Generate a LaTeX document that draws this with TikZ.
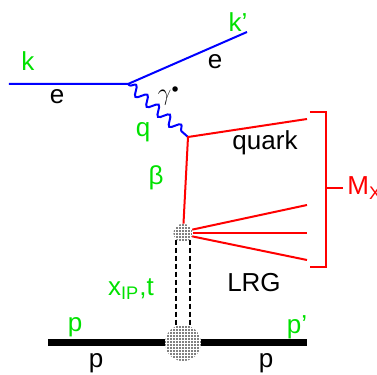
\documentclass[tikz,border=0pt]{standalone}
\usepackage{fontspec}
\setmainfont{Liberation Sans}
\usetikzlibrary{decorations.pathmorphing,patterns,shapes.geometric}
\definecolor{momgreen}{RGB}{0,225,0}
\pgfdeclarepatternformonly{finedots}{\pgfqpoint{-0.6pt}{-0.6pt}}{\pgfqpoint{0.6pt}{0.6pt}}%
  {\pgfqpoint{1.5pt}{1.5pt}}{\pgfpathcircle{\pgfqpoint{0pt}{0pt}}{0.45pt}\pgfusepath{fill}}

\begin{document}
\begin{tikzpicture}[x=0.5pt, y=-0.5pt,
  lbl/.style={font=\fontsize{13}{15}\selectfont, inner sep=0pt},
  mom/.style={lbl, text=momgreen},
  lepton/.style={blue, line width=1pt},
  photon/.style={blue, line width=1pt, decorate,
                 decoration={snake, amplitude=2.4pt, segment length=7.5pt,
                             pre length=1pt, post length=4pt}},
  hadron/.style={red, line width=1pt},
  proton/.style={black, line width=3.5pt},
  blob/.style={ellipse, pattern=finedots, inner sep=0pt},
  pomeron/.style={line width=1.2pt, dash pattern=on 2.5pt off 1.5pt},
]
  \useasboundingbox (0,0) rectangle (377,375);

  % electron vertex
  \coordinate (ein) at (9,84);
  \coordinate (evtx) at (128,84);
  \coordinate (eout) at (247,32);
  \draw[lepton] (ein) -- (evtx) -- (eout);

  % photon and quark
  \coordinate (qvtx) at (188,137);
  \coordinate (qend) at (307,119);
  \draw[photon] (evtx) -- (qvtx);
  \node[blob, minimum width=9.5pt, minimum height=9pt] (pom) at (183,233) {};
  \draw[hadron] (qend) -- (qvtx) -- (pom);

  % remnant fan
  \coordinate (fan1) at (307,205);
  \coordinate (fan2) at (307,233);
  \coordinate (fan3) at (307,260);
  \draw[hadron] (pom.20) -- (fan1);
  \draw[hadron] (pom.east) -- (fan2);
  \draw[hadron] (pom.-20) -- (fan3);

  % M_X bracket
  \coordinate (brtop) at (310,112);
  \coordinate (brbot) at (310,267);
  \coordinate (brmid) at (326,188);
  \node[lbl, text=red, anchor=west, inner sep=2pt] (mx) at (343,188) {M\textsubscript{X}};
  \draw[hadron] (brtop) -- ++(16,0) -- ++(0,155) -- (brbot);
  \draw[hadron] (brmid) -- (mx.west);

  % proton line
  \node[blob, circle, minimum size=18pt] (pblob) at (183,343) {};
  \coordinate (pin) at (48,343);
  \coordinate (pout) at (307,343);
  \draw[proton] (pin) -- (pblob);
  \draw[proton] (pblob) -- (pout);
  \draw[pomeron] (pom.south west) -- (pom.south west |- pblob.north);
  \draw[pomeron] (pom.south east) -- (pom.south east |- pblob.north);

  % labels
  \node[mom] (lk) at (28,61) {k};
  \node[lbl] (le1) at (57,97) {e};
  \node[mom] (lk2) at (238,22) {k’};
  \node[lbl] (le2) at (215,62) {e};
  \node[lbl] (lgam) at (169,96) {$\gamma^{\scriptscriptstyle\bullet}$};
  \node[mom] (lq) at (143,132) {q};
  \node[mom] (lbeta) at (156,178) {β};
  \node[lbl] (lquark) at (265,143) {quark};
  \node[mom] (lxp) at (131,289) {x\textsubscript{IP},t};
  \node[lbl] (llrg) at (254,283) {LRG};
  \node[mom] (lp1) at (75,327) {p};
  \node[lbl] (lp2) at (96,363) {p};
  \node[mom] (lp3) at (297,327) {p’};
  \node[lbl] (lp4) at (266,363) {p};
\end{tikzpicture}
\end{document}
